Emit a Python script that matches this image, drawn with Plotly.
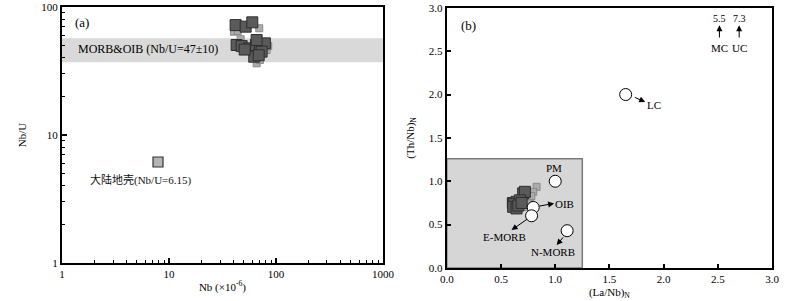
import plotly.graph_objects as go
import math

# ---------- data: panel (a) ----------
a_dark_nb = [42.0, 52.1, 60.1, 42.9, 47.8, 56.3, 65.0, 70.8, 78.8, 73.5, 62.7, 66.0, 51.0, 69.0]
a_dark_nbu = [72.2, 70.2, 75.9, 50.5, 49.5, 47.5, 50.5, 47.5, 52.0, 44.8, 40.9, 55.2, 46.5, 42.0]
a_light_nb = [40.5, 69.8, 46.8, 66.0, 81.8, 84.7, 70.8, 44.0]
a_light_nbu = [64.1, 68.2, 56.0, 36.3, 46.1, 49.5, 38.5, 65.0]
crust_nb = [7.9]
crust_nbu = [6.15]
band_low, band_high = 37, 57

# ---------- data: panel (b) ----------
b_dark_la = [0.609, 0.643, 0.704, 0.62, 0.72, 0.674, 0.612, 0.643, 0.66, 0.69]
b_dark_th = [0.748, 0.763, 0.86, 0.74, 0.878, 0.78, 0.705, 0.687, 0.72, 0.75]
b_light_la = [0.828, 0.797, 0.766, 0.751, 0.73, 0.78]
b_light_th = [0.936, 0.878, 0.802, 0.745, 0.705, 0.83]
ref_names = ["PM", "OIB", "E-MORB", "N-MORB", "LC"]
ref_la = [1.0, 0.797, 0.782, 1.11, 1.65]
ref_th = [1.0, 0.698, 0.602, 0.43, 2.0]
box_x = [0, 1.25]
box_y = [0, 1.26]

serif = "Liberation Serif"
dark_fill, dark_line = "#5a5a5a", "#2e2e2e"
light_fill, light_line = "#ababab", "#8a8a8a"

fig = go.Figure()

# panel (a)
fig.add_trace(go.Scatter(x=a_light_nb, y=a_light_nbu, mode="markers", xaxis="x", yaxis="y",
                         marker=dict(symbol="square", size=7, color=light_fill,
                                     line=dict(color=light_line, width=1)), showlegend=False))
fig.add_trace(go.Scatter(x=a_dark_nb, y=a_dark_nbu, mode="markers", xaxis="x", yaxis="y",
                         marker=dict(symbol="square", size=11, color=dark_fill,
                                     line=dict(color=dark_line, width=1)), showlegend=False))
fig.add_trace(go.Scatter(x=crust_nb, y=crust_nbu, mode="markers", xaxis="x", yaxis="y",
                         marker=dict(symbol="square", size=10, color="#b4b4b4",
                                     line=dict(color="#333333", width=1.2)), showlegend=False))

# panel (b)
fig.add_trace(go.Scatter(x=b_light_la, y=b_light_th, mode="markers", xaxis="x2", yaxis="y2",
                         marker=dict(symbol="square", size=7, color=light_fill,
                                     line=dict(color=light_line, width=1)), showlegend=False))
fig.add_trace(go.Scatter(x=b_dark_la, y=b_dark_th, mode="markers", xaxis="x2", yaxis="y2",
                         marker=dict(symbol="square", size=11, color=dark_fill,
                                     line=dict(color=dark_line, width=1)), showlegend=False))
fig.add_trace(go.Scatter(x=ref_la, y=ref_th, mode="markers", xaxis="x2", yaxis="y2",
                         marker=dict(symbol="circle", size=12, color="white",
                                     line=dict(color="black", width=1)),
                         text=ref_names, showlegend=False))

shapes = [
    dict(type="rect", xref="x domain", yref="y", x0=0, x1=1, y0=band_low, y1=band_high,
         fillcolor="#d9d9d9", line=dict(width=0), layer="below"),
    dict(type="rect", xref="x2", yref="y2", x0=box_x[0], x1=box_x[1], y0=box_y[0], y1=box_y[1],
         fillcolor="#d6d6d6", line=dict(color="#7a7a7a", width=1.5), layer="below"),
]

tf = dict(family=serif, size=11, color="black")
ann = []
def txt(x, y, s, xr="x", yr="y", size=11, xanchor="center"):
    ann.append(dict(x=x, y=y, xref=xr, yref=yr, text=s, showarrow=False,
                    font=dict(family=serif, size=size, color="black"), xanchor=xanchor))

def arrow(x, y, ax, ay):
    ann.append(dict(x=x, y=y, ax=ax, ay=ay, xref="x2", yref="y2", axref="x2", ayref="y2",
                    text="", showarrow=True, arrowhead=2, arrowsize=1.2, arrowwidth=1,
                    arrowcolor="black"))

txt(math.log10(1.54), math.log10(76), "(a)", size=13)
txt(math.log10(1.35), math.log10(47), "MORB&amp;OIB (Nb/U=47±10)", size=12, xanchor="left")
ann.append(dict(x=math.log10(1.75), y=math.log10(4.5), xref="x", yref="y",
                text="大陆地壳<span style='font-family:Liberation Serif'>(Nb/U=6.15)</span>",
                showarrow=False, xanchor="left",
                font=dict(family="Noto Sans CJK SC", size=11, color="#111")))

txt(0.197, 2.80, "(b)", "x2", "y2", size=13)
txt(0.99, 1.15, "PM", "x2", "y2")
txt(1.09, 0.733, "OIB", "x2", "y2")
txt(0.535, 0.36, "E-MORB", "x2", "y2")
txt(0.98, 0.18, "N-MORB", "x2", "y2")
txt(1.91, 1.88, "LC", "x2", "y2")
txt(2.515, 2.875, "5.5", "x2", "y2", size=10)
txt(2.697, 2.875, "7.3", "x2", "y2", size=10)
txt(2.515, 2.54, "MC", "x2", "y2")
txt(2.697, 2.54, "UC", "x2", "y2")

arrow(0.99, 0.745, 0.84, 0.71)
arrow(0.597, 0.437, 0.755, 0.575)
arrow(1.013, 0.265, 1.085, 0.37)
arrow(1.83, 1.914, 1.72, 1.975)
arrow(2.515, 2.80, 2.515, 2.64)
arrow(2.697, 2.80, 2.697, 2.64)

log_minor = [v * d for d in (1, 10, 100) for v in range(2, 10)]

axis_common = dict(showline=True, linecolor="black", linewidth=2, mirror=True, ticks="inside",
                   tickcolor="black", tickwidth=1.5, showgrid=False, zeroline=False,
                   automargin=False,
                   tickfont=tf, title_font=dict(family=serif, size=11, color="black"))

fig.update_layout(
    width=800, height=301, margin=dict(l=62, r=28, t=7, b=33, autoexpand=False),
    paper_bgcolor="white", plot_bgcolor="white", showlegend=False,
    shapes=shapes, annotations=ann,
    xaxis=dict(axis_common, type="log", range=[0, 3], domain=[0.0, 0.452], anchor="y",
               tickvals=[1, 10, 100, 1000], ticktext=["1", "10", "100", "1000"], ticklen=5,
               minor=dict(tickvals=log_minor, ticks="inside", ticklen=3, tickcolor="black",
                          tickwidth=1.2, showgrid=False),
               title=dict(text="Nb (×10<sup>-6</sup>)", standoff=4)),
    yaxis=dict(axis_common, type="log", range=[0, 2], domain=[0.0192, 1.0], anchor="x",
               tickvals=[1, 10, 100], ticktext=["1", "10", "100"], ticklen=5,
               minor=dict(tickvals=log_minor[:16], ticks="inside", ticklen=3, tickcolor="black",
                          tickwidth=1.2, showgrid=False),
               title=dict(text="Nb/U", standoff=12)),
    xaxis2=dict(axis_common, range=[0, 3], domain=[0.542, 1.0], anchor="y2",
                tickvals=[0, 0.5, 1, 1.5, 2, 2.5, 3],
                ticktext=["0.0", "0.5", "1.0", "1.5", "2.0", "2.5", "3.0"], ticklen=4,
                title=dict(text="(La/Nb)<sub>N</sub>", standoff=4)),
    yaxis2=dict(axis_common, range=[0, 3], domain=[0.0, 0.997], anchor="x2",
                tickvals=[0, 0.5, 1, 1.5, 2, 2.5, 3],
                ticktext=["0.0", "0.5", "1.0", "1.5", "2.0", "2.5", "3.0"], ticklen=4,
                title=dict(text="(Th/Nb)<sub>N</sub>", standoff=12)),
)

fig.write_html("out.html", config={"displayModeBar": False},
               post_script="document.body.style.margin='0';document.body.style.overflow='hidden';")
